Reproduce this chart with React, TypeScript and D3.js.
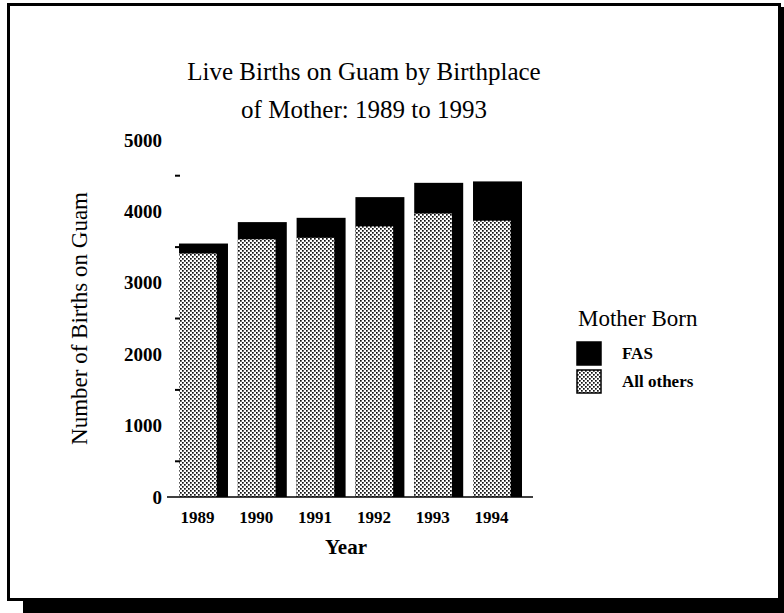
import { useEffect, useRef } from "react";
import * as d3 from "d3";

const years = ["1989", "1990", "1991", "1992", "1993", "1994"];
const allOthers = [3410, 3610, 3630, 3790, 3970, 3870];
const fas = [140, 240, 280, 410, 430, 550];
const yTickLabels = [0, 1000, 2000, 3000, 4000, 5000];
const yMinorTicks = [500, 1500, 2500, 3500, 4500];
const legendItems = [
  { label: "FAS", fill: "#000" },
  { label: "All others", fill: "url(#dots)" },
];

const FONT = "'Liberation Serif', 'Times New Roman', serif";

const App = () => {
  const svgRef = useRef<SVGSVGElement>(null);

  useEffect(() => {
    const svg = d3.select(svgRef.current);
    svg.selectAll("*").remove();

    const defs = svg.append("defs");
    const pat = defs
      .append("pattern")
      .attr("id", "dots")
      .attr("patternUnits", "userSpaceOnUse")
      .attr("width", 4)
      .attr("height", 4);
    pat.append("rect").attr("width", 4).attr("height", 4).attr("fill", "#fff");
    pat.append("rect").attr("x", 0).attr("y", 0).attr("width", 1.7).attr("height", 1.7).attr("fill", "#111");
    pat.append("rect").attr("x", 2).attr("y", 2).attr("width", 1.7).attr("height", 1.7).attr("fill", "#111");

    svg.append("rect").attr("width", 784).attr("height", 613).attr("fill", "#fff");

    // frame with drop shadow
    svg.append("rect").attr("x", 23).attr("y", 599).attr("width", 761).attr("height", 14).attr("fill", "#000");
    svg.append("rect").attr("x", 779).attr("y", 7).attr("width", 5).attr("height", 606).attr("fill", "#000");
    svg
      .append("rect")
      .attr("x", 8.5)
      .attr("y", 4.5)
      .attr("width", 771)
      .attr("height", 595)
      .attr("fill", "none")
      .attr("stroke", "#000")
      .attr("stroke-width", 3);

    const x = d3.scaleBand().domain(years).range([174, 527]).paddingInner(0.167).paddingOuter(0.085);
    const y = d3.scaleLinear().domain([0, 5000]).range([497, 140]);
    const bw = x.bandwidth();

    // title
    const title = svg
      .append("text")
      .attr("text-anchor", "middle")
      .style("font-family", FONT)
      .style("font-size", "25px")
      .attr("fill", "#000");
    title.append("tspan").attr("x", 364).attr("y", 80).text("Live Births on Guam by Birthplace");
    title.append("tspan").attr("x", 364).attr("y", 118).text("of Mother:  1989 to 1993");

    // bars: black total with patterned "all others" part inset on the left
    const g = svg.append("g");
    g.selectAll(".total")
      .data(years)
      .enter()
      .append("rect")
      .attr("x", (d) => x(d)!)
      .attr("y", (d, i) => y(allOthers[i] + fas[i]))
      .attr("width", bw)
      .attr("height", (d, i) => y(0) - y(allOthers[i] + fas[i]))
      .attr("fill", "#000");

    g.selectAll(".others")
      .data(years)
      .enter()
      .append("rect")
      .attr("x", (d) => x(d)!)
      .attr("y", (d, i) => y(allOthers[i]))
      .attr("width", bw * 0.77)
      .attr("height", (d, i) => y(0) - y(allOthers[i]))
      .attr("fill", "url(#dots)");

    // axes
    svg
      .append("line")
      .attr("x1", 167)
      .attr("x2", 533)
      .attr("y1", y(0))
      .attr("y2", y(0))
      .attr("stroke", "#000")
      .attr("stroke-width", 1.5);

    svg
      .selectAll(".minor")
      .data(yMinorTicks)
      .enter()
      .append("line")
      .attr("x1", 175)
      .attr("x2", 180)
      .attr("y1", (d) => y(d))
      .attr("y2", (d) => y(d))
      .attr("stroke", "#000")
      .attr("stroke-width", 2);

    svg
      .selectAll(".ylab")
      .data(yTickLabels)
      .enter()
      .append("text")
      .attr("x", 162)
      .attr("y", (d) => y(d))
      .attr("dy", "0.35em")
      .attr("text-anchor", "end")
      .style("font-family", FONT)
      .style("font-size", "19px")
      .style("font-weight", "bold")
      .text((d) => d);

    svg
      .selectAll(".xlab")
      .data(years)
      .enter()
      .append("text")
      .attr("x", (d) => x(d)! + bw / 2 - 6)
      .attr("y", 523)
      .attr("text-anchor", "middle")
      .style("font-family", FONT)
      .style("font-size", "17px")
      .style("font-weight", "bold")
      .text((d) => d);

    svg
      .append("text")
      .attr("x", 346)
      .attr("y", 554)
      .attr("text-anchor", "middle")
      .style("font-family", FONT)
      .style("font-size", "21px")
      .style("font-weight", "bold")
      .text("Year");

    svg
      .append("text")
      .attr("transform", `translate(87, ${y(2500)}) rotate(-90)`)
      .attr("text-anchor", "middle")
      .style("font-family", FONT)
      .style("font-size", "23px")
      .text("Number of Births on Guam");

    // legend
    svg
      .append("text")
      .attr("x", 578)
      .attr("y", 326)
      .style("font-family", FONT)
      .style("font-size", "23px")
      .text("Mother Born");

    const leg = svg
      .selectAll(".leg")
      .data(legendItems)
      .enter()
      .append("g")
      .attr("transform", (d, i) => `translate(577, ${342 + i * 28})`);

    leg
      .append("rect")
      .attr("width", 24)
      .attr("height", 23)
      .attr("fill", (d) => d.fill)
      .attr("stroke", "#000")
      .attr("stroke-width", 1.5);

    leg
      .append("text")
      .attr("x", 45)
      .attr("y", 17)
      .style("font-family", FONT)
      .style("font-size", "17px")
      .style("font-weight", "bold")
      .text((d) => d.label);
  }, []);

  return (
    <svg
      ref={svgRef}
      width={784}
      height={613}
      style={{ position: "absolute", left: 0, top: 0 }}
    ></svg>
  );
};

export default App;
